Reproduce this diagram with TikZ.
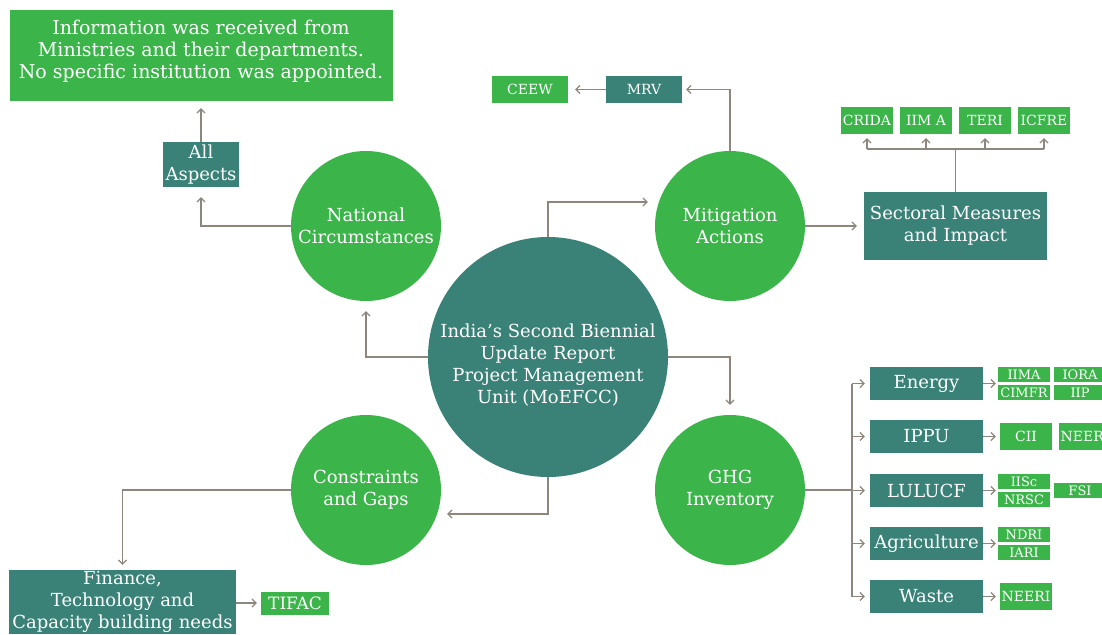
\documentclass[tikz,border=0pt]{standalone}
\usepackage{fontspec}
\setmainfont{DejaVu Serif}
\usetikzlibrary{arrows.meta}
\definecolor{grn}{RGB}{59,181,74}
\definecolor{tealc}{RGB}{58,130,120}
\definecolor{lnc}{RGB}{140,134,124}
\tikzset{
  circ/.style={circle, fill=grn, text=white, inner sep=0pt, minimum size=150pt, align=center, font=\fontsize{18}{22}\selectfont},
  bigcirc/.style={circ, fill=tealc, minimum size=240pt},
  bx/.style={rectangle, inner sep=0pt, text=white, align=center, font=\fontsize{18}{22}\selectfont},
  gbox/.style={bx, fill=grn},
  tbox/.style={bx, fill=tealc},
  lbl14/.style={font=\fontsize{14}{16}\selectfont},
  lbl13/.style={font=\fontsize{13}{14}\selectfont},
  tiny/.style={gbox, lbl13, minimum width=52pt, minimum height=15pt},
  small/.style={gbox, lbl14, minimum width=52pt, minimum height=27pt},
  sector/.style={tbox, minimum width=113pt, minimum height=33pt},
  ln/.style={draw=lnc, line width=1.2pt},
  arr/.style={ln, -{Straight Barb[length=4pt,width=8pt]}}
}
\begin{document}
\begin{tikzpicture}[x=1pt,y=-1pt]
\useasboundingbox (0,0) rectangle (1102,634);
\clip (0,0) rectangle (1102,634);
% circles
\node[bigcirc] (c) at (548,357) {\rule{0pt}{29.5pt}India’s Second Biennial\\Update Report\\Project Management\\Unit (MoEFCC)};
\node[circ] (nat) at (366,226) {National\\Circumstances};
\node[circ] (mit) at (730,226) {Mitigation\\Actions};
\node[circ] (con) at (366,490) {Constraints\\and Gaps};
\node[circ] (ghg) at (730,490) {GHG\\Inventory};
% top left
\node[gbox, font=\fontsize{19}{22}\selectfont, minimum width=383pt, minimum height=91pt] (info) at (201,55.5) {Information was received from\\Ministries and their departments.\\No specific institution was appointed.\rule[-11.5pt]{0pt}{11.5pt}};
\node[tbox, minimum width=76pt, minimum height=45pt] (all) at (201,164.5) {All\\Aspects};
% top middle
\node[tbox, lbl14, minimum width=76pt, minimum height=27pt] (mrv) at (644,89.5) {MRV};
\node[gbox, lbl14, minimum width=76pt, minimum height=27pt] (ceew) at (530,89.5) {CEEW};
% sectoral
\node[tbox, minimum width=183pt, minimum height=68pt] (sect) at (955.5,226) {Sectoral Measures\\and Impact};
\node[small] (crida) at (867,120.5) {CRIDA};
\node[small] (iima2) at (926,120.5) {IIM A};
\node[small] (teri) at (985,120.5) {TERI};
\node[small] (icfre) at (1044,120.5) {ICFRE};
\coordinate (j) at (955.5,149);
% GHG sectors
\node[sector] (energy) at (926.5,383.5) {Energy};
\node[sector] (ippu) at (926.5,436.5) {IPPU};
\node[sector] (lulucf) at (926.5,490.5) {LULUCF};
\node[sector] (agri) at (926.5,543.5) {Agriculture};
\node[sector] (waste) at (926.5,596.5) {Waste};
\coordinate (bus) at (852,490);
% institutions
\node[tiny] (iima) at (1024,374.5) {IIMA};
\node[tiny] (cimfr) at (1024,392.5) {CIMFR};
\node[tiny] (iora) at (1080,374.5) {IORA};
\node[tiny] (iip) at (1080,392.5) {IIP};
\node[small] (cii) at (1026,436.5) {CII};
\node[small] (neeri1) at (1085,436.5) {NEERI};
\node[tiny] (iisc) at (1024,481.5) {IISc};
\node[tiny] (nrsc) at (1024,499.5) {NRSC};
\node[tiny] (fsi) at (1080,490.5) {FSI};
\node[tiny] (ndri) at (1024,534.5) {NDRI};
\node[tiny] (iari) at (1024,552.5) {IARI};
\node[small] (neeri2) at (1026,596.5) {NEERI};
% bottom left
\node[tbox, minimum width=227pt, minimum height=64pt] (fin) at (122.5,602) {Finance,\\Technology and\\Capacity building needs};
\node[gbox, font=\fontsize{17}{18}\selectfont, minimum width=68pt, minimum height=23pt] (tifac) at (295,603) {TIFAC};
% connectors
\draw[arr] (c.west) -| ([yshift=-10pt]nat.south);
\draw[arr] (c.north) |- ([xshift=-7pt,yshift=24pt]mit.west);
\draw[arr] (c.east) -| ([yshift=10pt]ghg.north);
\draw[arr] (c.south) |- ([xshift=6pt,yshift=-24pt]con.east);
\draw[arr] (nat.west) -| ([yshift=-10pt]all.south);
\draw[arr] (all.north) -- ([yshift=-7pt]info.south);
\draw[arr] (mit.north) |- ([xshift=4pt]mrv.east);
\draw[arr] (mrv.west) -- ([xshift=7pt]ceew.east);
\draw[arr] (mit.east) -- ([xshift=-7pt]sect.west);
\draw[ln] (sect.north) -- (j);
\draw[ln] (crida.south |- j) -- (icfre.south |- j);
\foreach \b in {crida,iima2,teri,icfre}{
  \draw[arr] (\b.south |- j) -- ([yshift=-4pt]\b.south);
}
\draw[ln] (ghg.east) -- (bus);
\draw[ln] (bus |- energy) -- (bus |- waste);
\foreach \b in {energy,ippu,lulucf,agri,waste}{
  \draw[arr] (bus |- \b) -- ([xshift=-5pt]\b.west);
}
\draw[arr, shorten >=2pt] (energy.east) -- (energy.east -| iima.west);
\draw[arr, shorten >=4pt] (ippu.east) -- (ippu.east -| cii.west);
\draw[arr, shorten >=2pt] (lulucf.east) -- (lulucf.east -| iisc.west);
\draw[arr, shorten >=2pt] (agri.east) -- (agri.east -| ndri.west);
\draw[arr, shorten >=4pt] (waste.east) -- (waste.east -| neeri2.west);
\draw[arr] (con.west) -| ([yshift=5pt]fin.north);
\draw[arr] (fin.east |- tifac) -- ([xshift=-4pt]tifac.west);
\end{tikzpicture}
\end{document}
